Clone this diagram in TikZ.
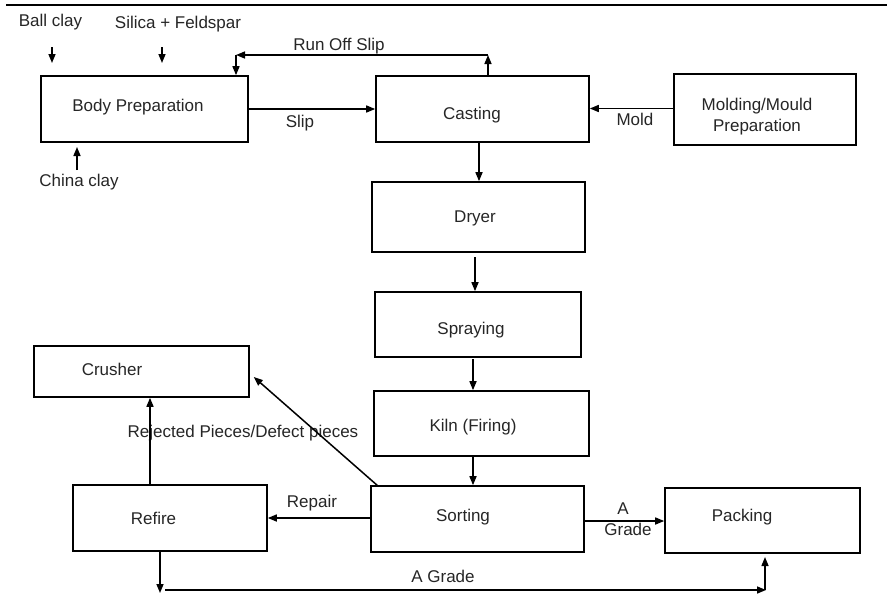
\documentclass[tikz,border=0pt]{standalone}
\usepackage{fontspec}
\setmainfont{Liberation Sans}
\usetikzlibrary{arrows.meta}
\begin{document}
\begin{tikzpicture}[x=1pt,y=-1pt,
  every node/.style={font=\fontsize{17}{21}\selectfont, text=black!85, inner sep=0pt},
  box/.style={draw, line width=1.6pt, rectangle},
  arr/.style={line width=1.5pt, -{Triangle[length=9pt,width=7pt]}},
  lbl/.style={anchor=center, text height=12pt, text depth=3.5pt}]
\useasboundingbox (0,0) rectangle (894,595);
\fill[white] (0,0) rectangle (894,595);
\draw[line width=2.5pt] (6,5) coordinate (t1) -- (887,5) coordinate (t2);

% boxes
\node[box, minimum width=207pt, minimum height=66pt] (body) at (144.5,109) {};
\node[lbl] (bodyt) at (138,107) {Body Preparation};
\node[box, minimum width=213pt, minimum height=66pt] (cast) at (482.5,109) {};
\node[lbl] (castt) at (472,115) {Casting};
\node[box, minimum width=182pt, minimum height=71pt] (mould) at (765,109.5) {};
\node[align=center] (mouldt) at (757,117) {Molding/Mould\\Preparation};
\node[box, minimum width=213pt, minimum height=70pt] (dryer) at (478.5,217) {};
\node[lbl] (dryert) at (475,218) {Dryer};
\node[box, minimum width=206pt, minimum height=65pt] (spray) at (478,324.5) {};
\node[lbl] (sprayt) at (471,330) {Spraying};
\node[box, minimum width=215pt, minimum height=65pt] (kiln) at (481.5,423.5) {};
\node[lbl] (kilnt) at (473,427) {Kiln (Firing)};
\node[box, minimum width=213pt, minimum height=66pt] (sort) at (477.5,519) {};
\node[lbl] (sortt) at (463,517) {Sorting};
\node[box, minimum width=195pt, minimum height=65pt] (pack) at (762.5,520.5) {};
\node[lbl] (packt) at (742,517) {Packing};
\node[box, minimum width=194pt, minimum height=66pt] (refire) at (170,518) {};
\node[lbl] (refiret) at (153.5,520) {Refire};
\node[box, minimum width=215pt, minimum height=51pt] (crush) at (141.5,371.5) {};
\node[lbl] (crusht) at (112,371) {Crusher};

% free texts
\node[lbl] (ball) at (50.5,22) {Ball clay};
\node[lbl] (silica) at (178,24) {Silica + Feldspar};
\node[lbl] (china) at (79,182) {China clay};
\node[lbl] (runoff) at (339,46) {Run Off Slip};
\node[lbl] (slip) at (300,123) {Slip};
\node[lbl] (mold) at (635,121) {Mold};
\node[lbl] (rej) at (243,433) {Rejected Pieces/Defect pieces};
\node[lbl] (repair) at (312,503) {Repair};
\node[lbl] (ga) at (623,510) {A};
\node[lbl] (gg) at (628,531) {Grade};
\node[lbl] (ag) at (443,578) {A Grade};

% raw material arrows
\coordinate (b1) at (52,47); \coordinate (b2) at (52,63);
\coordinate (s1) at (162,47); \coordinate (s2) at (162,63);
\coordinate (c1) at (77,170); \coordinate (c2) at (77,147);
\draw[arr] (b1) -- (b2);
\draw[arr] (s1) -- (s2);
\draw[arr] (c1) -- (c2);

% run off slip
\coordinate (r1) at (488,55); \coordinate (r2) at (236,55);
\draw[arr] (cast.north -| r1) -- (r1);
\draw[arr] (r1) -- (r2);
\draw[arr] (r2) -- (r2 |- body.north);

% main flow
\draw[arr] (body.east) -- (cast.west);
\coordinate (y0) at (0,108.5);
\draw[arr] (mould.west |- y0) -- (cast.east |- y0);
\coordinate (x1) at (479,0);
\draw[arr] (cast.south -| x1) -- (dryer.north -| x1);
\coordinate (d1) at (475,257);
\draw[arr] (d1) -- (spray.north -| d1);
\coordinate (s3) at (473,359);
\draw[arr] (s3) -- (kiln.north -| s3);
\draw[arr] (kiln.south -| s3) -- (sort.north -| s3);
\coordinate (y1) at (0,521);
\draw[arr] (sort.east |- y1) -- (pack.west |- y1);
\coordinate (y2) at (0,518);
\draw[arr] (sort.west |- y2) -- (refire.east |- y2);
\coordinate (x2) at (150,0);
\draw[arr] (refire.north -| x2) -- (crush.south -| x2);
\coordinate (dg) at (378,486);
\draw[arr] (dg) -- ([xshift=4pt,yshift=-5.5pt]crush.east);

% bottom A grade route
\coordinate (f1) at (160,593);
\draw[arr] (refire.south -| f1) -- (f1);
\coordinate (g1) at (165,590); \coordinate (g2) at (766,590);
\draw[arr] (g1) -- (g2);
\coordinate (g3) at (765,590); \coordinate (g4) at (765,557);
\draw[arr] (g3) -- (g4);
\end{tikzpicture}
\end{document}
